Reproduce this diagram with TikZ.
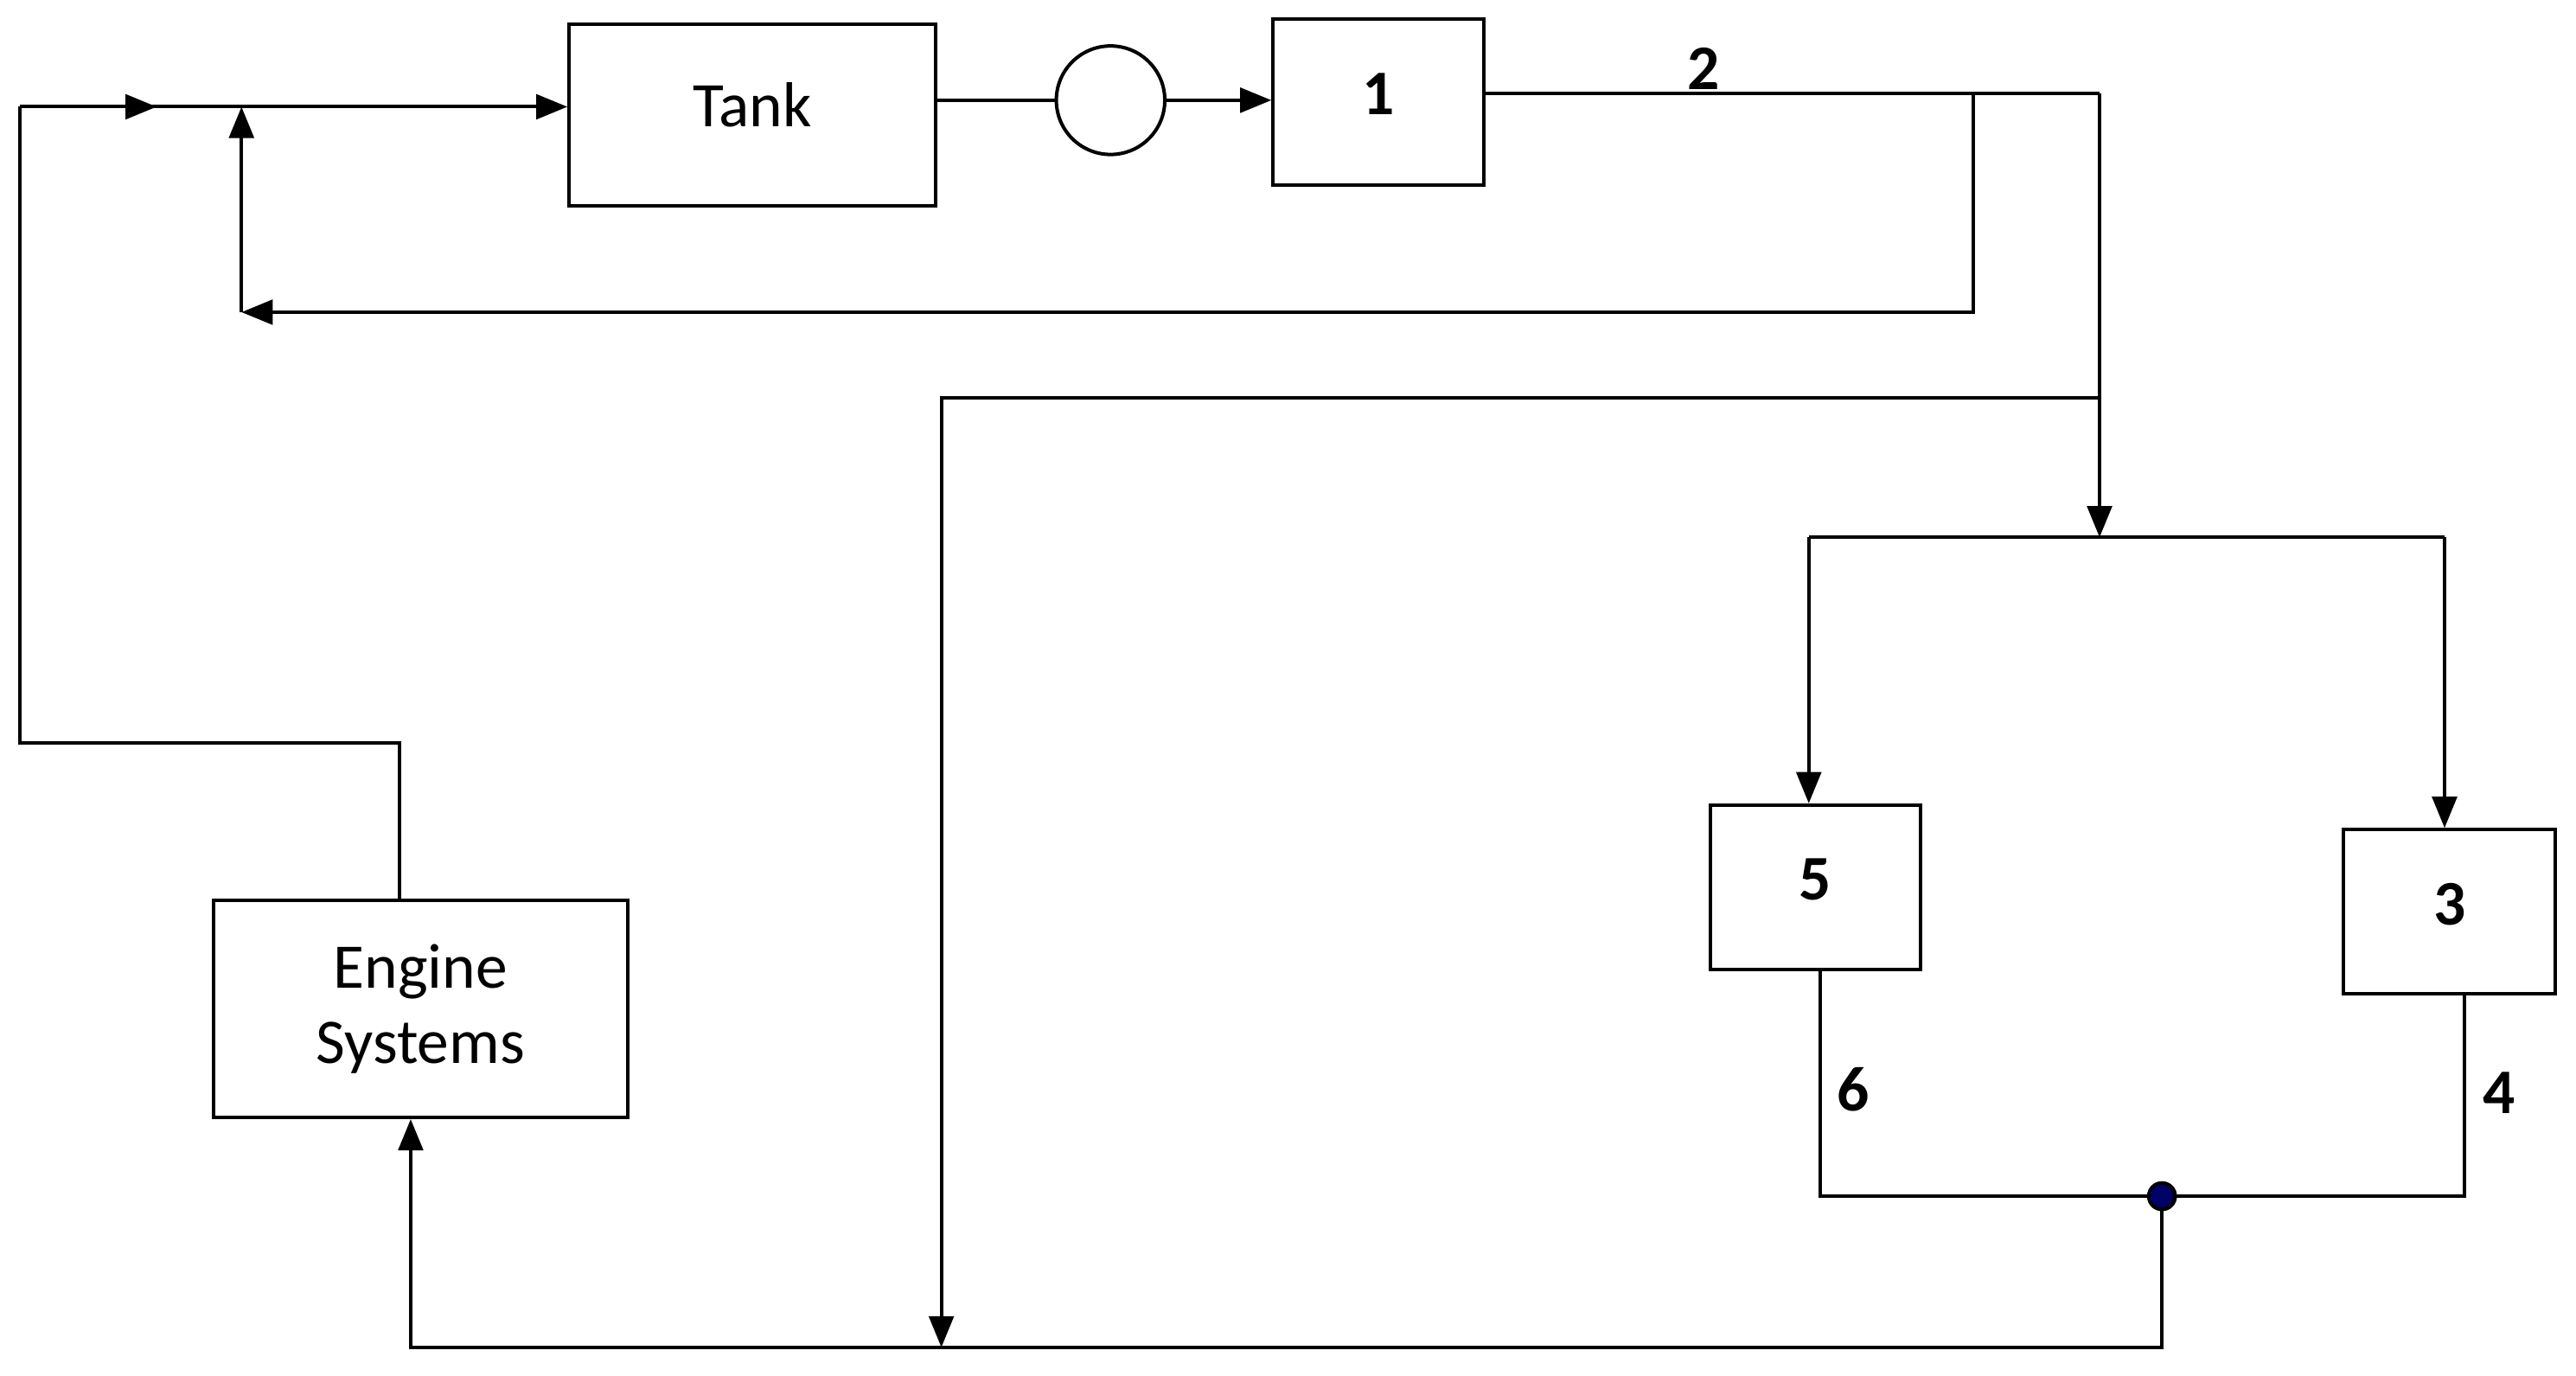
\documentclass[tikz,border=0pt]{standalone}
\usepackage{fontspec}
\setmainfont{Carlito}
\usetikzlibrary{arrows.meta,decorations.markings}
\begin{document}
\begin{tikzpicture}[x=0.01cm,y=-0.01cm,line width=0.6pt,
  box/.style={draw,minimum width=0,inner sep=0,font=\fontsize{11}{13}\selectfont},
  num/.style={font=\bfseries\fontsize{11}{13}\selectfont},
  arr/.style={-{Triangle[length=0.19cm,width=0.15cm]}},
  midarr/.style={postaction={decorate},decoration={markings,mark=at position #1 with {\arrow{Triangle[length=0.19cm,width=0.15cm]}}}}]
\useasboundingbox (0,0) rectangle (1568,837);
\node[box,minimum width=2.23cm,minimum height=1.1cm] (tank) at (458,70) {\raisebox{0.13cm}{Tank}};
\node[draw,circle,minimum size=0.66cm,inner sep=0] (pump) at (676,61) {};
\node[box,num,minimum width=1.28cm,minimum height=1.01cm] (b1) at (839,62) {\raisebox{0.1cm}{1}};
\node[box,align=center,minimum width=2.52cm,minimum height=1.32cm] (eng) at (256,614) {Engine\\Systems};
\node[box,num,minimum width=1.28cm,minimum height=1.0cm] (b5) at (1105,540) {\raisebox{0.1cm}{5}};
\node[box,num,minimum width=1.29cm,minimum height=1.0cm] (b3) at (1491,555) {\raisebox{0.1cm}{3}};
\node[circle,fill=blue!40!black,draw=black,inner sep=0,minimum size=0.16cm] (dot) at (1316,728) {};
\node[num] at (1037,42) {2};
\node[num] at (1128,663) {6};
\node[num] at (1521,665) {4};
\coordinate (tl) at (12,65);
\coordinate (bl) at (12,452);
\coordinate (ea) at (243,452);
\coordinate (rA) at (147,65);
\coordinate (rB) at (147,190);
\coordinate (rC) at (1201,190);
\coordinate (rD) at (1201,57);
\coordinate (tr) at (1278,57);
\coordinate (m1) at (1278,242);
\coordinate (m2) at (573,242);
\coordinate (m3) at (573,820);
\coordinate (sp) at (1278,327);
\coordinate (sl) at (1101,327);
\coordinate (sr) at (1488,327);
\coordinate (bb) at (250,820);
\coordinate (bd) at (1316,820);
\coordinate (jl) at (1108,728);
\coordinate (jr) at (1500,728);
\draw[arr,midarr=0.25] (tl) -- (tank.west |- tl);
\draw (tank.east |- pump) -- (pump);
\draw[arr] (pump) -- (b1.west |- pump);
\draw (b1.east |- tr) -- (tr);
\draw[arr] (tr) -- (sp);
\draw[arr] (rD) -- (rC) -- (rB);
\draw[arr] (rB) -- (rA);
\draw (eng.north -| ea) -- (ea) -- (bl) -- (tl);
\draw[arr] (m1) -- (m2) -- (m3);
\draw (sl) -- (sr);
\draw[arr] (sl) -- (b5.north -| sl);
\draw[arr] (sr) -- (b3.north -| sr);
\draw (b5.south -| jl) -- (jl) -- (jr) -- (b3.south -| jr);
\draw[arr] (dot) -- (bd) -- (bb) -- (eng.south -| bb);
\node[circle,fill=blue!40!black,draw=black,inner sep=0,minimum size=0.16cm] at (dot) {};
\end{tikzpicture}
\end{document}
